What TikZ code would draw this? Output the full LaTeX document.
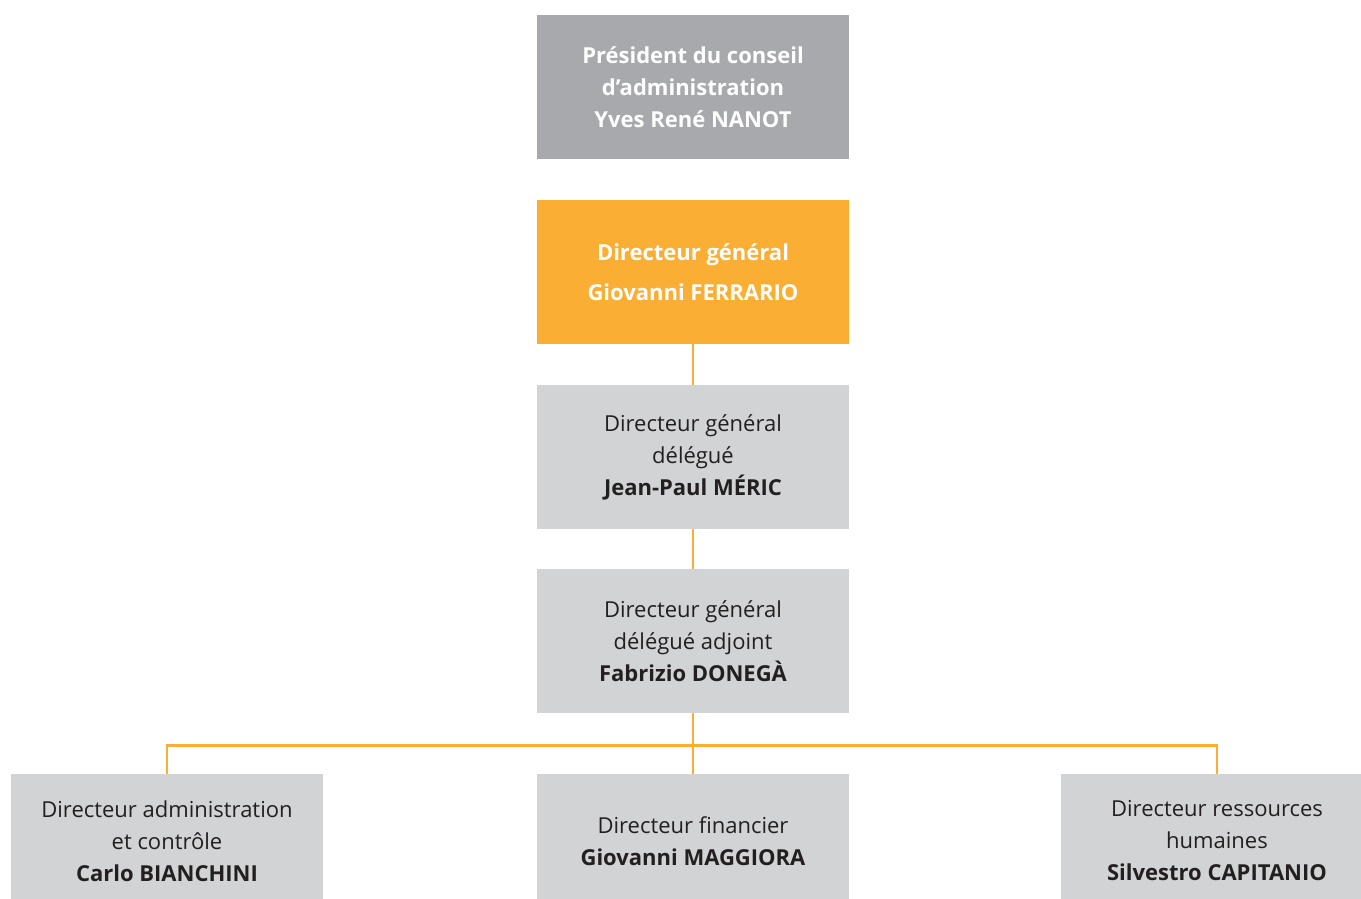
\documentclass[tikz,border=0pt]{standalone}
\usepackage{fontspec}
\setmainfont{Open Sans}
\definecolor{darkbox}{HTML}{A7A9AC}
\definecolor{orangebox}{HTML}{FAAF34}
\definecolor{lightbox}{HTML}{D1D3D4}
\definecolor{txt}{HTML}{231F20}
\begin{document}
\begin{tikzpicture}[x=1pt,y=1pt,
  box/.style={rectangle, minimum width=312pt, minimum height=144pt, inner sep=0pt, align=center,
    font=\fontsize{22}{32}\selectfont},
  graybox/.style={box, fill=lightbox, text=txt},
  label text/.style={inner sep=0pt, align=center, text=txt, font=\fontsize{22}{32}\selectfont},
  link/.style={draw=orangebox, line width=2.6pt}]
\useasboundingbox (0,0) rectangle (1361,-898);
\node[box, fill=darkbox, text=white] (pres) at (693,-87) {\bfseries Président du conseil\\\bfseries d’administration\\\bfseries Yves René NANOT};
\node[box, fill=orangebox, text=white] (dg) at (693,-272) {\bfseries Directeur général\\[8pt]\bfseries Giovanni FERRARIO};
\node[graybox] (dgd) at (693,-457) {Directeur général\\délégué\\\bfseries Jean-Paul MÉRIC};
\node[graybox] (dgda) at (693,-641) {Directeur général\\délégué adjoint\\\bfseries Fabrizio DONEGÀ};
\node[graybox] (dac) at (167,-846) {};
\node[graybox] (df) at (693,-846) {};
\node[graybox] (drh) at (1217,-846) {};
\node[label text] (dac-t) at (167,-841) {Directeur administration\\et contrôle\\\bfseries Carlo BIANCHINI};
\node[label text] (df-t) at (693,-841) {Directeur financier\\\bfseries Giovanni MAGGIORA};
\node[label text] (drh-t) at (1217,-841) {Directeur ressources\\humaines\\\bfseries Silvestro CAPITANIO};
\coordinate (j) at (693,-745.5);
\draw[link] (dg.south) -- (dgd.north);
\draw[link] (dgd.south) -- (dgda.north);
\draw[link] (dgda.south) -- (df.north);
\draw[link] (dac.north) |- (j) -| (drh.north);
\end{tikzpicture}
\end{document}
